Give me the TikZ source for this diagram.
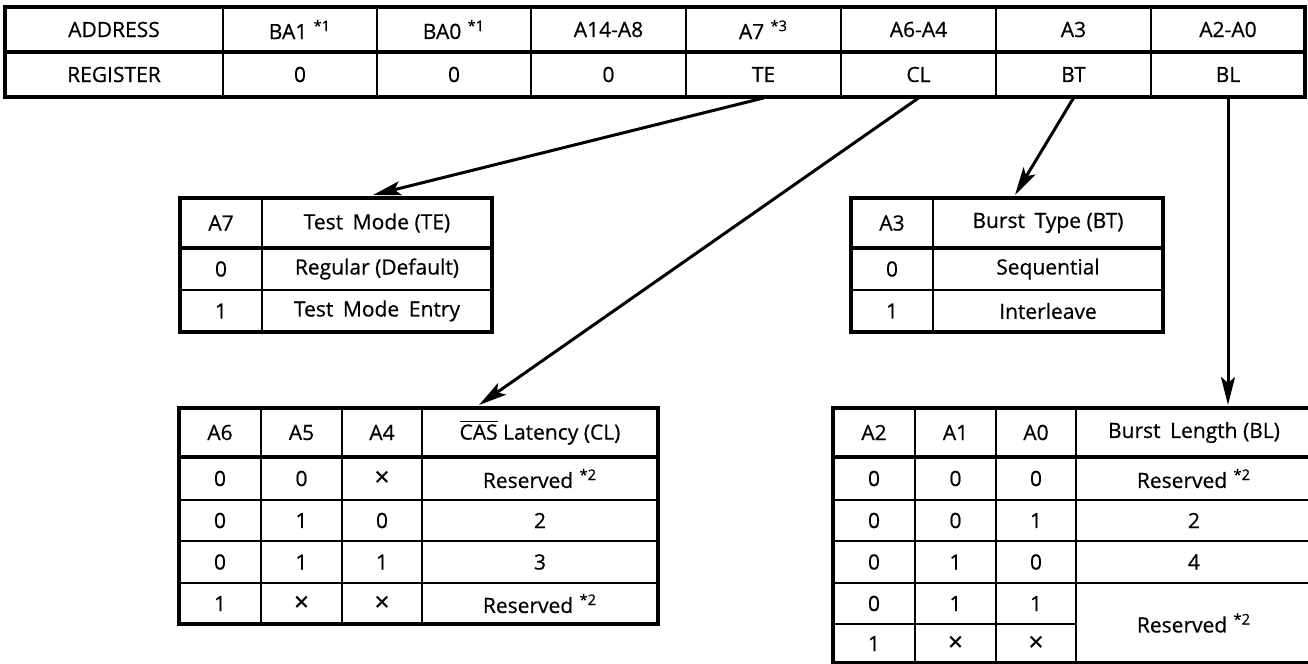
\documentclass[tikz,border=0pt]{standalone}
\usepackage{fontspec}
\setmainfont{Open Sans}
\newfontfamily\regfont{Open Sans}[FakeBold=0.6]
\usetikzlibrary{arrows.meta}
\newcommand\note[1]{\hspace{0.3em}\textsuperscript{*#1}}
\newcommand\gap{\hspace{0.2em} }
\newcommand\dc{{\fontsize{13}{13}\selectfont ×}}

\tikzset{
  tablerim/.style={line width=1.6pt},
  tablecut/.style={line width=0.75pt},
  tablerow/.style={line width=1pt},
  pointer/.style={line width=1.5pt,-{Stealth[length=14pt,width=7pt,inset=3pt]}},
  txt/.style={inner sep=0pt,anchor=center}
}

\begin{document}
\begin{tikzpicture}[x=0.5pt,y=-0.5pt,font=\regfont\fontsize{10.5}{12}\selectfont]
    \useasboundingbox (0,0) rectangle (1308,664);
    % mode register
    \foreach \x in {223,377,531,686,841,996,1151}
        \draw[tablecut] (\x,7) -- (\x,97);
    \draw[tablerim] (5,52) -- (1305,52);
    \draw[tablerim] (5,7) rectangle (1305,97);
    \foreach \x/\a/\r[count=\i] in {114/ADDRESS/REGISTER,300/BA1\note{1}/0,454/BA0\note{1}/0,608.5/A14-A8/0,763.5/A7\note{3}/TE,918.5/A6-A4/CL,1073.5/A3/BT,1228/A2-A0/BL}{
        \node[txt] (addr\i) at (\x,29.5) {\a};
        \node[txt] (reg\i) at (\x,74.5) {\r};
        \coordinate (out\i) at (\x,98);
    }

    % test mode
    \draw[tablerow] (180,290) -- (492,290);
    \draw[tablecut] (262,198) -- (262,332);
    \draw[tablerim] (180,248) -- (492,248);
    \draw[tablerim] (180,198) rectangle (492,332);
    \foreach \a/\b/\y[count=\i] in {A7/Test\gap Mode (TE)/223,0/Regular (Default)/269,1/Test\gap Mode\gap Entry/311}{
        \node[txt] (te\i) at (221,\y) {\a};
        \node[txt] (tev\i) at (377,\y) {\b};
    }
    \coordinate (te-in) at (373,195);

    % burst type
    \draw[tablerow] (851,290) -- (1163,290);
    \draw[tablecut] (933,198) -- (933,332);
    \draw[tablerim] (851,248) -- (1163,248);
    \draw[tablerim] (851,198) rectangle (1163,332);
    \foreach \a/\b/\y[count=\i] in {A3/Burst\gap Type (BT)/223,0/Sequential/269,1/Interleave/311}{
        \node[txt] (bt\i) at (892,\y) {\a};
        \node[txt] (btv\i) at (1048,\y) {\b};
    }
    \coordinate (bt-in) at (1015,195);

    % cas latency
    \foreach \y in {500,541,583}
        \draw[tablerow] (179,\y) -- (658,\y);
    \foreach \x in {261,342,422}
        \draw[tablecut] (\x,408) -- (\x,624);
    \draw[tablerim] (179,457) -- (658,457);
    \draw[tablerim] (179,408) rectangle (658,624);
    \node[txt] (cl-a6) at (220,432.5) {A6};
    \node[txt] (cl-a5) at (301.5,432.5) {A5};
    \node[txt] (cl-a4) at (382,432.5) {A4};
    \node[txt] (cl-head) at (540,432.5) {$\overline{\mbox{CAS}}$ Latency (CL)};
    \foreach \p/\q/\r/\v/\y[count=\i] in {0/0/\dc/Reserved\note{2}/478.5,0/1/0/2/520.5,0/1/1/3/562,1/\dc/\dc/Reserved\note{2}/603.5}{
        \node[txt] (cl\i a) at (220,\y) {\p};
        \node[txt] (cl\i b) at (301.5,\y) {\q};
        \node[txt] (cl\i c) at (382,\y) {\r};
        \node[txt] (cl\i v) at (540,\y) {\v};
    }
    \coordinate (cl-in) at (479,405);

    % burst length
    \foreach \y in {500,541,583}
        \draw[tablerow] (833,\y) -- (1312,\y);
    \draw[tablerow] (833,624) -- (1076,624);
    \foreach \x in {915,996,1076}
        \draw[tablecut] (\x,408) -- (\x,663);
    \draw[tablerim] (833,457) -- (1312,457);
    \draw[tablerim] (833,408) rectangle (1312,663);
    \node[txt] (bl-a2) at (874,432.5) {A2};
    \node[txt] (bl-a1) at (955.5,432.5) {A1};
    \node[txt] (bl-a0) at (1036,432.5) {A0};
    \node[txt] (bl-head) at (1194,432.5) {Burst\gap Length (BL)};
    \foreach \p/\q/\r/\y[count=\i] in {0/0/0/478.5,0/0/1/520.5,0/1/0/562,0/1/1/603.5,1/\dc/\dc/643.5}{
        \node[txt] (bl\i a) at (874,\y) {\p};
        \node[txt] (bl\i b) at (955.5,\y) {\q};
        \node[txt] (bl\i c) at (1036,\y) {\r};
    }
    \foreach \v/\y[count=\i] in {Reserved\note{2}/478.5,2/520.5,4/562,Reserved\note{2}/623}
        \node[txt] (blv\i) at (1194,\y) {\v};
    \coordinate (bl-in) at (1228,405);

    % pointers
    \draw[pointer] (out5) -- (te-in);
    \draw[pointer] (out6) -- (cl-in);
    \draw[pointer] (out7) -- (bt-in);
    \draw[pointer] (out8) -- (bl-in);
\end{tikzpicture}
\end{document}
